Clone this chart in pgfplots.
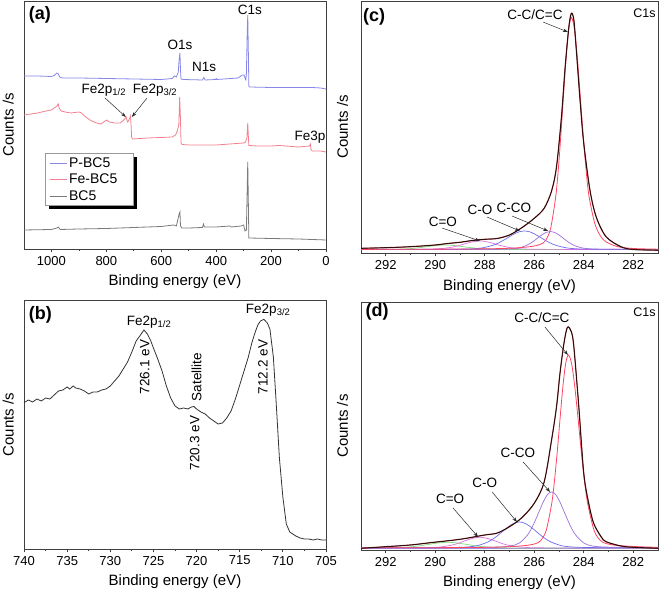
\documentclass[border=0pt]{standalone}
\usepackage{fontspec}
\setmainfont{Liberation Sans}
\usepackage{pgfplots}
\pgfplotsset{compat=1.18}
\usetikzlibrary{arrows.meta}

\definecolor{cPBC}{HTML}{8787E8}
\definecolor{cFe}{HTML}{F4808F}
\definecolor{cBC}{HTML}{7A7A7A}
\definecolor{cRed}{HTML}{FF4464}
\definecolor{cBlue}{HTML}{6B6BF0}
\definecolor{cPur}{HTML}{9A70D8}
\definecolor{cMag}{HTML}{E070E0}
\definecolor{cGrn}{HTML}{7CE07C}
\definecolor{cEnv}{HTML}{8B2E2E}
\definecolor{cBase}{HTML}{A090E0}

\tikzset{
  annot/.style={font=\fontsize{13.5}{16}\selectfont, inner sep=0pt},
  plab/.style={font=\bfseries\fontsize{18}{20}\selectfont, inner sep=0pt},
  arr/.style={-{Stealth[length=5pt,width=3.5pt]}, black!85, line width=0.5pt},
}

\pgfplotsset{
  panel/.style={
    scale only axis, x dir=reverse,
    ytick=\empty, xtick pos=left,
    tick align=outside,
    major tick length=3.5pt, minor tick length=2pt,
    minor x tick num=1,
    axis line style={black!75, line width=0.8pt},
    every tick/.style={black!75, line width=0.8pt},
    ticklabel style={font=\fontsize{13}{15}\selectfont},
    /pgf/number format/assume math mode=true,
    /pgf/number format/1000 sep={},
    xlabel={Binding energy (eV)},
    ylabel={Counts /s},
    label style={font=\fontsize{15}{17}\selectfont},
    xlabel style={at={(axis description cs:0.5,-0.133)}, anchor=center},
    clip mode=individual,
  },
}

\begin{document}
\begin{tikzpicture}[x=1pt,y=1pt]
\path[use as bounding box] (0,0) rectangle (661,596);

% ---------------- (a) ----------------
\begin{axis}[panel, at={(24pt,347pt)}, anchor=south west,
  width=302pt, height=248pt,
  xmin=0, xmax=1100, ymin=0, ymax=248,
  xtick={0,200,400,600,800,1000},
  ylabel style={at={(axis description cs:-0.052,0.5)}, anchor=center},
  legend style={at={(rel axis cs:0.083,0.378)}, anchor=north west,
    font=\fontsize{14}{16}\selectfont, draw=none, fill=none,
    inner xsep=0pt, inner ysep=0pt, row sep=1.2pt,
    /tikz/every even column/.append style={column sep=4pt}},
  legend cell align=left,
  legend image code/.code={\draw[#1] (0pt,0pt) -- (17pt,0pt);},
]
\fill[black] (rel axis cs:0.083,0.371) rectangle (rel axis cs:0.375,0.161);
\filldraw[fill=white, draw=black!40, line width=0.6pt] (rel axis cs:0.070,0.387) rectangle (rel axis cs:0.362,0.177);
\addplot[cPBC, line width=0.8pt] coordinates {
(1100,173)(1050,173)(1000,172.5)(990,173.5)(980,176)(975,175)(970,172)(960,171)
(900,171)(800,170.5)(700,170)(600,169.5)(560,170.5)(552,173)(545,172)(538,177)
(535,189)(532,196)(530,179)(528,170)(520,169.5)(450,169)(445,171.5)(440,169)
(402,169.5)(400,170.5)(398,169.5)(320,171)(305,174)(298,174)(294,170)(292,169)
(290,175)(287,215)(285,234)(283,200)(281,163)(278,162)(200,161.5)(100,161.5)
(50,161.5)(20,161)(0,160)};
\addlegendentry{P-BC5}
\addplot[cFe, line width=0.8pt] coordinates {
(1100,134)(1050,136)(1020,138)(1000,139)(990,141)(980,143)(975,145)(972,141)
(965,138)(950,137)(930,136)(900,137)(890,136)(880,133)(860,129)(845,127)(835,126)
(820,125)(805,128)(798,129)(790,127)(770,126)(750,126)(740,128)(733,130)(728,132)
(725,129)(722,127)(716,130)(712,133)(710,124)(708,112)(705,110)(650,111)
(600,111.5)(560,112)(548,114)(542,118)(536,124)(533,152)(530,129)(528,106)
(524,104.5)(500,104)(400,104)(300,106)(293,107)(288,111)(285,126)(283,114)
(281,103.5)(250,103)(200,103)(170,103.5)(100,102)(60,103)(57,105)(55,100)
(50,98)(20,98)(0,97)};
\addlegendentry{Fe-BC5}
\addplot[cBC, line width=0.8pt] coordinates {
(1100,19)(1000,19.5)(980,21)(975,22)(968,19.5)(900,20)(800,20.5)(700,21.5)
(600,22.5)(555,24)(545,23)(535,35)(532,37)(530,23)(525,21)(500,21)(450,21.5)
(446,25)(443,22)(400,22)(350,23)(345,22)(310,23)(300,24)(295,18)(290,19)
(287,59)(285,87)(283,49)(281,11)(200,10.5)(100,10)(0,9)};
\addlegendentry{BC5}
\node[plab] at (axis cs:1042,234) {(a)};
\node[annot] at (axis cs:277,239) {C1s};
\node[annot] at (axis cs:532,204) {O1s};
\node[annot] at (axis cs:444,182) {N1s};
\node[annot] at (axis cs:809,159) {Fe2p\textsubscript{1/2}};
\node[annot] at (axis cs:623,159) {Fe2p\textsubscript{3/2}};
\node[annot] at (axis cs:58,112) {Fe3p};
\draw[arr] (axis cs:805,151) -- (axis cs:729,132);
\draw[arr] (axis cs:652,151) -- (axis cs:707,132);
\end{axis}

% ---------------- (b) ----------------
\begin{axis}[panel, at={(24pt,47pt)}, anchor=south west,
  width=302pt, height=249pt,
  xmin=705, xmax=740, ymin=0, ymax=249,
  xtick={705,710,...,740},
  ylabel style={at={(axis description cs:-0.052,0.5)}, anchor=center},
]
\addplot[black!80, line width=0.8pt] coordinates {
(740,146.3)(739.5,149)(739,147)(738.5,150)(738,148)(737.5,151)(737,150)
(736.5,154)(736,158)(735.5,159)(735,162)(734.7,160)(734.3,163)(734,161)
(733.5,160)(733,158)(732.5,155)(732,157)(731.5,157)(731,159)(730.5,160)
(730,163)(729.5,168)(729,173)(728.5,180)(728,187)(727.5,197)(727,208)
(726.5,214)(726.1,219)(725.7,215)(725.3,208)(725,201)(724.5,190)(724,178)
(723.5,163)(723,151)(722.5,143)(722,140)(721.5,141)(721,140)(720.6,142)
(720.3,142.5)(720,140)(719.5,137)(719,135)(718.5,131)(718,128)(717.5,125)
(717,126)(716.5,131)(716,138)(715.5,150)(715,164)(714.5,178)(714,192)
(713.6,206)(713.2,217)(712.9,224)(712.6,228)(712.2,229.7)(711.8,226)
(711.5,220)(711.1,192)(710.8,150)(710.4,91)(710,52)(709.6,25)(709.2,17)
(708.5,13)(708,11)(707.5,10)(707,10)(706.5,9)(706,10)(705.5,9)(705,9)};
\node[plab] at (axis cs:738.1,234) {(b)};
\node[annot] at (axis cs:725.5,227) {Fe2p\textsubscript{1/2}};
\node[annot] at (axis cs:711.7,239) {Fe2p\textsubscript{3/2}};
\node[annot, rotate=90] at (axis cs:726,182) {726.1 eV};
\node[annot, rotate=90] at (axis cs:720,172) {Satellite};
\node[annot, rotate=90] at (axis cs:720.2,106) {720.3 eV};
\node[annot, rotate=90] at (axis cs:712.3,182) {712.2 eV};
\end{axis}

% ---------------- (c) ----------------
\begin{axis}[panel, at={(361pt,343pt)}, anchor=south west,
  width=297pt, height=252pt,
  xmin=281, xmax=293, ymin=0, ymax=252,
  xtick={282,284,...,292},
  ylabel style={at={(axis description cs:-0.062,0.5)}, anchor=center},
]
\addplot[cBase, line width=0.7pt] coordinates {(293,3.5)(281,3.5)};
\addplot[cGrn, line width=0.7pt, smooth] coordinates {
(293,3.55)(292.3,3.6)(291.85,3.7)(291.4,3.9)(290.95,4.5)(290.725,5.1)(290.5,5.75)
(290.275,6.5)(290.05,7.25)(289.825,7.8)(289.6,8)(289.375,7.8)(289.15,7.25)
(288.925,6.5)(288.7,5.75)(288.475,5.1)(288.25,4.5)(287.8,3.9)(287.35,3.7)
(286.9,3.6)(281,3.5)};
\addplot[cMag, line width=0.7pt, smooth] coordinates {
(293,3.55)(291.4,3.6)(290.6,3.7)(290.2,3.8)(289.8,4.3)(289.4,5.5)(289.2,6.5)
(289.0,7.75)(288.8,9.2)(288.6,10.6)(288.4,11.6)(288.2,12)(288.0,11.6)(287.8,10.6)
(287.6,9.2)(287.4,7.75)(287.2,6.5)(287.0,5.5)(286.6,4.3)(286.2,3.8)(285.8,3.7)
(285,3.6)(281,3.5)};
\addplot[cBlue, line width=0.7pt, smooth] coordinates {
(293,3.55)(291.44,3.6)(289.76,3.7)(288.92,3.9)(288.5,4.2)(288.08,5.2)(287.66,7.8)
(287.45,10)(287.24,12.75)(287.03,15.9)(286.82,18.9)(286.61,21.2)(286.4,22)
(286.19,21.2)(285.98,18.9)(285.77,15.9)(285.56,12.75)(285.35,10)(285.14,7.8)
(284.72,5.2)(284.3,4.2)(283.88,3.9)(283.04,3.7)(281.36,3.6)(281,3.6)};
\addplot[cPur, line width=0.7pt, smooth] coordinates {
(293,3.52)(289.19,3.6)(287.91,3.7)(287.27,3.9)(286.95,4.2)(286.63,5.1)(286.31,7.6)
(286.15,9.8)(285.99,12.5)(285.83,15.6)(285.67,18.5)(285.51,20.7)(285.35,21.5)
(285.19,20.7)(285.03,18.5)(284.87,15.6)(284.71,12.5)(284.55,9.8)(284.39,7.6)
(284.07,5.1)(283.75,4.2)(283.43,3.9)(282.79,3.7)(282,3.6)(281,3.55)};
\addplot[cRed, line width=0.8pt, smooth] coordinates {
(293,3.6)(288.7,4.0)(287.02,4.7)(286.18,6.3)(285.76,8.6)(285.55,12.3)
(285.34,24.4)(285.13,56.9)(285.025,84.5)(284.92,119.5)(284.815,158.9)
(284.71,196.8)(284.605,225)(284.5,235.5)(284.3825,225)(284.265,196.8)
(284.1475,158.9)(284.03,119.5)(283.9125,85)(283.795,58)(283.56,30)
(283.325,17)(283.09,11)(282.62,6.3)(282,4.5)(281,3.8)};
\addplot[cEnv, line width=1.2pt, smooth] coordinates {
(293,4.7)(292,5.3)(291,6.3)(290,8)(289.5,9.5)(289,10.7)(288.5,12.5)(288,13.7)
(287.5,14.5)(287,18)(286.5,25.3)(286,34.7)(285.6,44.7)(285.3,62)(285.1,86.3)
(284.9,136.3)(284.75,186.3)(284.6,226.3)(284.5,239.7)(284.4,233)(284.3,203)
(284.15,153)(284.0,109.7)(283.75,63)(283.5,36.3)(283.1,16.3)(282.5,6.3)
(282,3.5)(281,2.8)};
\addplot[black, line width=0.5pt, smooth] coordinates {
(293,4.7)(292,5.3)(291,6.3)(290,8)(289.5,9.5)(289,10.7)(288.5,12.5)(288,13.7)
(287.5,14.5)(287,18)(286.5,25.3)(286,34.7)(285.6,44.7)(285.3,62)(285.1,86.3)
(284.9,136.3)(284.75,186.3)(284.6,226.3)(284.5,239.7)(284.4,233)(284.3,203)
(284.15,153)(284.0,109.7)(283.75,63)(283.5,36.3)(283.1,16.3)(282.5,6.3)
(282,3.5)(281,2.8)};
\node[plab] at (axis cs:292.47,236) {(c)};
\node[annot, font=\fontsize{12.5}{15}\selectfont] at (axis cs:281.55,240) {C1s};
\node[annot] at (axis cs:285.97,238) {C-C/C=C};
\draw[arr] (axis cs:285.65,231) -- (axis cs:284.64,221);
\node[annot] at (axis cs:289.69,31) {C=O};
\draw[arr] (axis cs:289.73,25) -- (axis cs:288.19,12);
\node[annot] at (axis cs:288.19,43) {C-O};
\draw[arr] (axis cs:287.91,36) -- (axis cs:286.58,22);
\node[annot] at (axis cs:286.82,45) {C-CO};
\draw[arr] (axis cs:286.9,37) -- (axis cs:285.44,22);
\end{axis}

% ---------------- (d) ----------------
\begin{axis}[panel, at={(361pt,46pt)}, anchor=south west,
  width=297pt, height=248pt,
  xmin=281, xmax=293, ymin=0, ymax=248,
  xtick={282,284,...,292},
  ylabel style={at={(axis description cs:-0.062,0.5)}, anchor=center},
]
\addplot[cBase, line width=0.7pt] coordinates {(293,2)(281,2)};
\addplot[cGrn, line width=0.7pt, smooth] coordinates {
(293,2.05)(292.35,2.1)(291.875,2.2)(291.4,2.5)(290.925,3.3)(290.6875,4)(290.45,4.85)
(290.2125,5.8)(289.975,6.75)(289.7375,7.4)(289.5,7.7)(289.2625,7.4)(289.025,6.75)
(288.7875,5.8)(288.55,4.85)(288.3125,4)(288.075,3.3)(287.6,2.5)(287.125,2.2)
(286.65,2.1)(281,2)};
\addplot[cMag, line width=0.7pt, smooth] coordinates {
(293,2.05)(291.4,2.1)(290.6,2.2)(290.2,2.4)(289.8,3)(289.4,4.5)(289.2,5.7)
(289.0,7.35)(288.8,9.2)(288.6,10.9)(288.4,12.2)(288.2,12.7)(288.0,12.2)(287.8,10.9)
(287.6,9.2)(287.4,7.35)(287.2,5.7)(287.0,4.5)(286.6,3)(286.2,2.4)(285.8,2.2)
(285,2.1)(281,2)};
\addplot[cBlue, line width=0.7pt, smooth] coordinates {
(293,2.05)(291.7,2.1)(290,2.3)(289.15,2.6)(288.725,3)(288.3,4.3)(287.875,8)
(287.6625,11.1)(287.45,15)(287.2375,19.4)(287.025,23.7)(286.8125,26.8)(286.6,28)
(286.3875,26.8)(286.175,23.7)(285.9625,19.4)(285.75,15)(285.5375,11.1)(285.325,8)
(284.9,4.3)(284.475,3)(284.05,2.6)(283.2,2.3)(281.5,2.1)(281,2.05)};
\addplot[cPur, line width=0.7pt, smooth] coordinates {
(293,2.1)(289.2,2.3)(287.9,2.7)(287.25,3.2)(286.925,4.1)(286.6,7)(286.275,14.9)
(286.1125,21.5)(285.95,30)(285.7875,39.5)(285.625,48.6)(285.4625,55.5)(285.3,58)
(285.1375,55.5)(284.975,48.6)(284.8125,39.5)(284.65,30)(284.4875,21.5)
(284.325,14.9)(284.0,7)(283.675,4.1)(283.35,3.2)(282.7,2.7)(281.4,2.3)(281,2.2)};
\addplot[cRed, line width=0.8pt, smooth] coordinates {
(293,2.2)(289.12,2.4)(287.32,3)(286.42,4.3)(285.97,6.2)(285.745,9.3)(285.52,19.4)
(285.295,46.4)(285.1825,69.4)(285.07,98.5)(284.9575,131.3)(284.845,162.8)
(284.7325,186.3)(284.62,195)(284.49,186.3)(284.36,162.8)(284.23,131.3)
(284.10,98.5)(283.97,69.4)(283.84,46.4)(283.58,19.4)(283.32,9.3)(283.06,6.2)
(282.54,4.3)(281.5,3)(281,2.8)};
\addplot[cEnv, line width=1.2pt, smooth] coordinates {
(293,1.7)(292,3.3)(291,5)(290.2,7.3)(289,10.7)(288,15)(287.5,16.9)(287,23.3)
(286.5,32.3)(286,46.7)(285.6,68)(285.3,110)(285.1,143.3)(284.96,176.7)
(284.8,206.7)(284.66,222.7)(284.5,218.3)(284.4,203.3)(284.2,143.3)(284.0,76.7)
(283.8,46.7)(283.6,26.7)(283.3,13.3)(283.1,8.3)(282.5,4)(282,2.7)(281,1.7)};
\addplot[black, line width=0.5pt, smooth] coordinates {
(293,1.7)(292,3.3)(291,5)(290.2,7.3)(289,10.7)(288,15)(287.5,16.9)(287,23.3)
(286.5,32.3)(286,46.7)(285.6,68)(285.3,110)(285.1,143.3)(284.96,176.7)
(284.8,206.7)(284.66,222.7)(284.5,218.3)(284.4,203.3)(284.2,143.3)(284.0,76.7)
(283.8,46.7)(283.6,26.7)(283.3,13.3)(283.1,8.3)(282.5,4)(282,2.7)(281,1.7)};
\node[plab] at (axis cs:292.35,238) {(d)};
\node[annot, font=\fontsize{12.5}{15}\selectfont] at (axis cs:281.55,238) {C1s};
\node[annot] at (axis cs:285.69,232) {C-C/C=C};
\draw[arr] (axis cs:285.57,223) -- (axis cs:284.64,195);
\node[annot] at (axis cs:286.66,97) {C-CO};
\draw[arr] (axis cs:286.45,88) -- (axis cs:285.36,58);
\node[annot] at (axis cs:288.0,67) {C-O};
\draw[arr] (axis cs:287.7,58) -- (axis cs:286.7,28);
\node[annot] at (axis cs:289.4,51) {C=O};
\draw[arr] (axis cs:289.28,42) -- (axis cs:288.27,13);
\end{axis}
\end{tikzpicture}
\end{document}
